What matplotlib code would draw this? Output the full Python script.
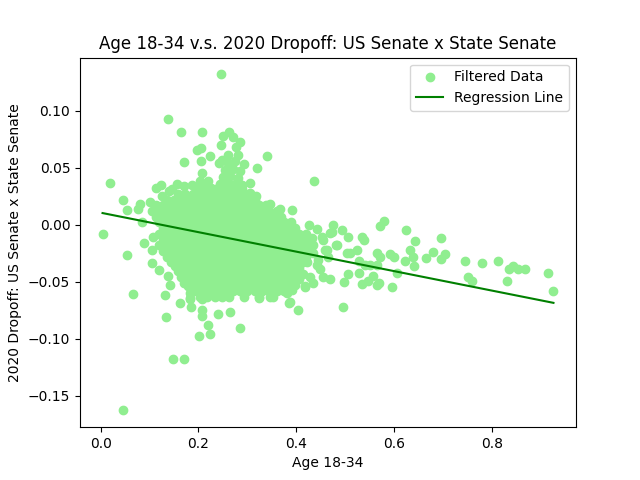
import numpy as np
from matplotlib import pyplot as plt

# scattered points (Age 18-34 share, 2020 dropoff)
age_outer = [0.247, 0.137, 0.165, 0.208, 0.263, 0.251, 0.271, 0.286, 0.247, 0.276,
             0.198, 0.206, 0.224, 0.206, 0.171, 0.243, 0.261, 0.280, 0.341, 0.320,
             0.294, 0.208, 0.020, 0.437, 0.204, 0.220, 0.306, 0.157, 0.124, 0.114,
             0.045, 0.053, 0.076, 0.080, 0.102, 0.347, 0.367, 0.392, 0.318, 0.427,
             0.443, 0.004, 0.084,
             0.088, 0.053, 0.106, 0.120, 0.137, 0.067, 0.131, 0.133, 0.163, 0.184,
             0.182, 0.208, 0.208, 0.208, 0.220, 0.224, 0.202, 0.241, 0.265, 0.286,
             0.149, 0.171, 0.045, 0.386, 0.404, 0.382, 0.418, 0.324, 0.347, 0.178,
             0.141, 0.108, 0.106,
             0.476, 0.473, 0.494, 0.506, 0.571, 0.580, 0.624, 0.643, 0.696, 0.535,
             0.539, 0.482, 0.524, 0.510, 0.565, 0.571, 0.592, 0.600, 0.633, 0.639,
             0.622, 0.641, 0.665, 0.680, 0.696, 0.704, 0.745, 0.780, 0.812, 0.835,
             0.843, 0.853, 0.867, 0.914, 0.926, 0.831, 0.751, 0.759, 0.606, 0.596,
             0.565, 0.569, 0.535, 0.547, 0.557, 0.529, 0.529, 0.506, 0.498, 0.496,
             0.469, 0.455, 0.435, 0.418, 0.565, 0.551, 0.541,
             0.414, 0.433, 0.455, 0.459, 0.484, 0.435, 0.465, 0.422, 0.443, 0.449,
             0.429, 0.453, 0.469, 0.504, 0.463, 0.445, 0.388]
drop_outer = [0.132, 0.093, 0.081, 0.081, 0.081, 0.078, 0.077, 0.073, 0.070, 0.068,
              0.066, 0.067, 0.060, 0.056, 0.055, 0.054, 0.061, 0.061, 0.060, 0.050,
              0.053, 0.045, 0.037, 0.038, 0.038, 0.038, 0.037, 0.036, 0.035, 0.032,
              0.022, 0.013, 0.014, 0.018, 0.020, 0.018, 0.014, 0.013, 0.025, 0.000,
              -0.0035, -0.008, 0.002,
              -0.016, -0.027, -0.034, -0.040, -0.045, -0.061, -0.062, -0.081, -0.069, -0.072,
              -0.065, -0.065, -0.075, -0.080, -0.088, -0.096, -0.098, -0.078, -0.077, -0.091,
              -0.118, -0.118, -0.163, -0.069, -0.075, -0.060, -0.055, -0.064, -0.063, -0.054,
              -0.053, -0.011, -0.022,
              0.000, -0.006, -0.005, -0.011, -0.001, 0.003, -0.005, -0.014, -0.012, -0.011,
              -0.013, -0.018, -0.022, -0.025, -0.025, -0.028, -0.026, -0.028, -0.022, -0.028,
              -0.032, -0.036, -0.029, -0.024, -0.030, -0.026, -0.032, -0.034, -0.032, -0.039,
              -0.036, -0.039, -0.039, -0.042, -0.058, -0.049, -0.046, -0.049, -0.042, -0.055,
              -0.053, -0.051, -0.052, -0.049, -0.045, -0.042, -0.032, -0.043, -0.050, -0.072,
              -0.048, -0.046, -0.051, -0.054, -0.035, -0.035, -0.035,
              -0.011, -0.012, -0.013, -0.022, -0.018, -0.025, -0.028, -0.033, -0.035, -0.039,
              -0.046, -0.0105, -0.007, -0.025, -0.022, -0.031, -0.068]

# the upper bump above the dense cluster
age_bump = [0.245, 0.26, 0.275, 0.29, 0.25, 0.265, 0.28, 0.255, 0.27, 0.285, 0.26, 0.275, 0.248]
drop_bump = [0.036, 0.037, 0.036, 0.035, 0.042, 0.043, 0.041, 0.048, 0.049, 0.047, 0.054, 0.056, 0.057]

# ragged points round the edge of the cluster
age_edge = [0.14, 0.17, 0.186, 0.29, 0.305, 0.125, 0.312, 0.165, 0.17, 0.158, 0.152,
            0.183, 0.392, 0.182, 0.147]
drop_edge = [0.030, 0.034, 0.035, 0.031, 0.028, 0.025, 0.023, -0.046, -0.051, -0.041, -0.036,
             -0.060, -0.057, -0.064, 0.031]

# dense cluster, one row of ages per dropoff level
core_levels = [0.032, 0.027, 0.022, 0.017, 0.012, 0.007, 0.002, -0.003, -0.008, -0.013,
               -0.018, -0.023, -0.028, -0.033, -0.038, -0.043, -0.048, -0.053, -0.058, -0.063]
core_ages = [
    [0.195, 0.21, 0.225, 0.24, 0.255, 0.27],
    [0.158, 0.173, 0.188, 0.203, 0.218, 0.233, 0.248, 0.263, 0.278, 0.293],
    [0.135, 0.15, 0.165, 0.18, 0.195, 0.21, 0.225, 0.24, 0.255, 0.27, 0.285, 0.3, 0.315],
    [0.113, 0.128, 0.143, 0.158, 0.173, 0.188, 0.203, 0.218, 0.233, 0.248, 0.263, 0.278, 0.293, 0.308,
     0.323, 0.338],
    [0.105, 0.12, 0.135, 0.15, 0.165, 0.18, 0.195, 0.21, 0.225, 0.24, 0.255, 0.27, 0.285, 0.3, 0.315,
     0.33, 0.345, 0.36],
    [0.113, 0.128, 0.143, 0.158, 0.173, 0.188, 0.203, 0.218, 0.233, 0.248, 0.263, 0.278, 0.293, 0.308,
     0.323, 0.338, 0.353, 0.368],
    [0.12, 0.135, 0.15, 0.165, 0.18, 0.195, 0.21, 0.225, 0.24, 0.255, 0.27, 0.285, 0.3, 0.315, 0.33,
     0.345, 0.36, 0.375, 0.39],
    [0.128, 0.143, 0.158, 0.173, 0.188, 0.203, 0.218, 0.233, 0.248, 0.263, 0.278, 0.293, 0.308, 0.323,
     0.338, 0.353, 0.368, 0.383, 0.398],
    [0.12, 0.135, 0.15, 0.165, 0.18, 0.195, 0.21, 0.225, 0.24, 0.255, 0.27, 0.285, 0.3, 0.315, 0.33,
     0.345, 0.36, 0.375, 0.39, 0.405, 0.42],
    [0.128, 0.143, 0.158, 0.173, 0.188, 0.203, 0.218, 0.233, 0.248, 0.263, 0.278, 0.293, 0.308, 0.323,
     0.338, 0.353, 0.368, 0.383, 0.398, 0.413, 0.428],
    [0.12, 0.135, 0.15, 0.165, 0.18, 0.195, 0.21, 0.225, 0.24, 0.255, 0.27, 0.285, 0.3, 0.315, 0.33,
     0.345, 0.36, 0.375, 0.39, 0.405, 0.42, 0.435],
    [0.128, 0.143, 0.158, 0.173, 0.188, 0.203, 0.218, 0.233, 0.248, 0.263, 0.278, 0.293, 0.308, 0.323,
     0.338, 0.353, 0.368, 0.383, 0.398, 0.413, 0.428],
    [0.135, 0.15, 0.165, 0.18, 0.195, 0.21, 0.225, 0.24, 0.255, 0.27, 0.285, 0.3, 0.315, 0.33, 0.345,
     0.36, 0.375, 0.39, 0.405, 0.42],
    [0.143, 0.158, 0.173, 0.188, 0.203, 0.218, 0.233, 0.248, 0.263, 0.278, 0.293, 0.308, 0.323, 0.338,
     0.353, 0.368, 0.383, 0.398, 0.413],
    [0.165, 0.18, 0.195, 0.21, 0.225, 0.24, 0.255, 0.27, 0.285, 0.3, 0.315, 0.33, 0.345, 0.36,
     0.375, 0.39, 0.405],
    [0.173, 0.188, 0.203, 0.218, 0.233, 0.248, 0.263, 0.278, 0.293, 0.308, 0.323, 0.338, 0.353,
     0.368, 0.383, 0.398, 0.413],
    [0.18, 0.195, 0.21, 0.225, 0.24, 0.255, 0.27, 0.285, 0.3, 0.315, 0.33, 0.345, 0.36, 0.375,
     0.39, 0.405],
    [0.188, 0.203, 0.218, 0.233, 0.248, 0.263, 0.278, 0.293, 0.308, 0.323, 0.338, 0.353, 0.368,
     0.383, 0.398],
    [0.195, 0.21, 0.225, 0.24, 0.255, 0.27, 0.285, 0.3, 0.315, 0.33, 0.345, 0.36, 0.375],
    [0.203, 0.218, 0.233, 0.248, 0.263, 0.293, 0.323, 0.353],
]

# regression line
slope = -0.0855
intercept = 0.0106

ages = list(age_outer) + list(age_bump) + list(age_edge)
drops = list(drop_outer) + list(drop_bump) + list(drop_edge)
for lvl, row in zip(core_levels, core_ages):
    ages += row
    drops += [lvl] * len(row)
ages = np.array(ages)
drops = np.array(drops)

fig, ax = plt.subplots(figsize=(6.4, 4.8), dpi=100)
ax.scatter(ages, drops, color='lightgreen', label='Filtered Data')
xl = np.array([ages.min(), ages.max()])
ax.plot(xl, slope * xl + intercept, color='green', label='Regression Line')

ax.set_title('Age 18-34 v.s. 2020 Dropoff: US Senate x State Senate')
ax.set_xlabel('Age 18-34')
ax.set_ylabel('2020 Dropoff: US Senate x State Senate')
ax.legend()

plt.savefig('out.png')
